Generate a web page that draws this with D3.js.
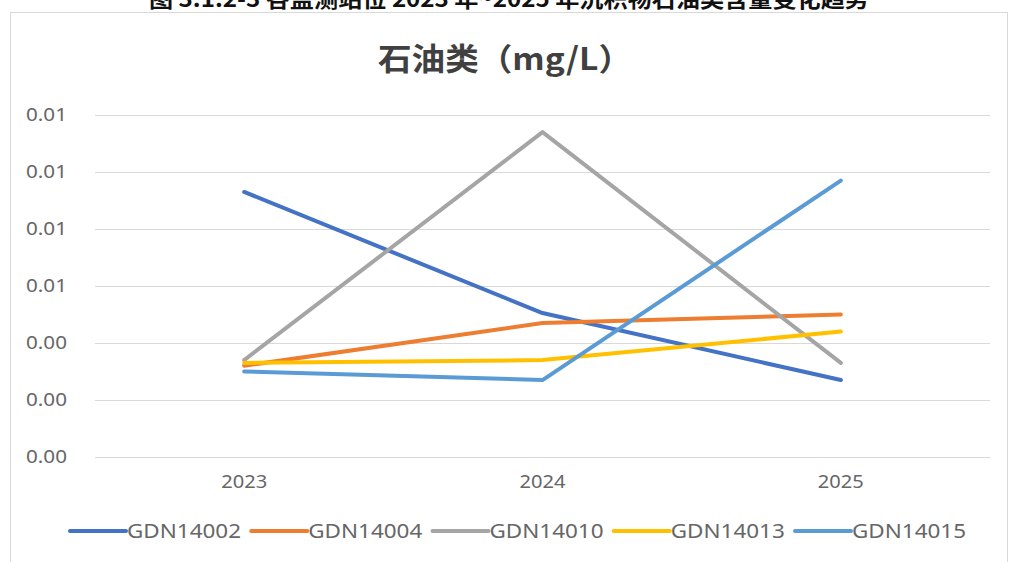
<!DOCTYPE html>
<html>
<head>
<meta charset="utf-8">
<script src="https://cdn.jsdelivr.net/npm/d3@7"></script>
<style>
  body { margin: 0; background: #fff; }
  svg { display: block; }
</style>
</head>
<body>
<div id="wrapper"></div>
<script>
// data
const years = ["2023", "2024", "2025"];
const stations = ["GDN14002", "GDN14004", "GDN14010", "GDN14013", "GDN14015"];
const gdn14002 = [0.0093, 0.00505, 0.0027];
const gdn14004 = [0.0032, 0.0047, 0.0050];
const gdn14010 = [0.0034, 0.0114, 0.0033];
const gdn14013 = [0.0033, 0.0034, 0.0044];
const gdn14015 = [0.0030, 0.0027, 0.0097];
const yTicks = [0, 0.002, 0.004, 0.006, 0.008, 0.010, 0.012];
const colors = ["#4472C4", "#ED7D31", "#A5A5A5", "#FFC000", "#5B9BD5"];

const series = [gdn14002, gdn14004, gdn14010, gdn14013, gdn14015]
  .map((values, i) => ({ name: stations[i], color: colors[i], values }));

// dimensions
const width = 1011, height = 562;
const margin = { top: 115, right: 21, bottom: 105, left: 95 };
const boundedWidth = width - margin.left - margin.right;
const boundedHeight = height - margin.top - margin.bottom;

const svg = d3.select("#wrapper").append("svg")
  .attr("width", width)
  .attr("height", height);

// caption of the page, cut off at the top as in the source
svg.append("text")
  .attr("x", 509).attr("y", 7)
  .attr("text-anchor", "middle")
  .attr("font-family", "Noto Sans CJK SC")
  .attr("font-weight", 700)
  .attr("font-size", 22)
  .attr("fill", "#111")
  .attr("textLength", 720)
  .attr("lengthAdjust", "spacingAndGlyphs")
  .text("图 3.1.2-3 各监测站位 2023 年~2025 年沉积物石油类含量变化趋势");

// chart frame
svg.append("rect")
  .attr("x", 10.5).attr("y", 12.5)
  .attr("width", 997).attr("height", 560)
  .attr("fill", "#fff")
  .attr("stroke", "#d9d9d9");

// title
svg.append("text")
  .attr("x", 505).attr("y", 70)
  .attr("text-anchor", "middle")
  .attr("font-family", "Noto Sans CJK SC")
  .attr("font-weight", 700)
  .attr("font-size", 31)
  .attr("fill", "#404040")
  .attr("textLength", 254)
  .attr("lengthAdjust", "spacingAndGlyphs")
  .text("石油类（mg/L）");

const bounds = svg.append("g")
  .attr("transform", `translate(${margin.left}, ${margin.top})`);

// scales
const xScale = d3.scaleBand()
  .domain(years)
  .range([0, boundedWidth]);
const yScale = d3.scaleLinear()
  .domain([0, 0.012])
  .range([boundedHeight, 0]);

// gridlines + y axis
const yAxis = d3.axisLeft(yScale)
  .tickValues(yTicks)
  .tickFormat(d3.format(".2f"))
  .tickSize(-boundedWidth)
  .tickPadding(28);
const yAxisGroup = bounds.append("g").call(yAxis);
yAxisGroup.select(".domain").remove();
yAxisGroup.selectAll(".tick line")
  .attr("stroke", "#d9d9d9")
  .attr("stroke-width", 1);
yAxisGroup.selectAll(".tick text")
  .attr("font-family", "Noto Sans")
  .attr("font-size", 18)
  .attr("fill", "#666")
  .attr("textLength", 41)
  .attr("lengthAdjust", "spacingAndGlyphs");

// x axis
const xAxis = d3.axisBottom(xScale)
  .tickSize(0)
  .tickPadding(18);
const xAxisGroup = bounds.append("g")
  .attr("transform", `translate(0, ${boundedHeight})`)
  .call(xAxis);
xAxisGroup.select(".domain")
  .attr("stroke", "#d9d9d9");
xAxisGroup.selectAll(".tick text")
  .attr("font-family", "Noto Sans")
  .attr("font-size", 18)
  .attr("fill", "#666")
  .attr("textLength", 46)
  .attr("lengthAdjust", "spacingAndGlyphs");

// lines
const lineGenerator = d3.line()
  .x((d, i) => xScale(years[i]) + xScale.bandwidth() / 2)
  .y(d => yScale(d));

bounds.selectAll(".series")
  .data(series)
  .join("path")
    .attr("class", "series")
    .attr("d", d => lineGenerator(d.values))
    .attr("fill", "none")
    .attr("stroke", d => d.color)
    .attr("stroke-width", 4)
    .attr("stroke-linecap", "round")
    .attr("stroke-linejoin", "round");

// legend
const legendX = d3.scalePoint()
  .domain(stations)
  .range([70, 795]);
const legend = svg.selectAll(".legend")
  .data(series)
  .join("g")
    .attr("class", "legend")
    .attr("transform", d => `translate(${legendX(d.name)}, 531)`);
legend.append("line")
  .attr("x1", 0).attr("x2", 56)
  .attr("stroke", d => d.color)
  .attr("stroke-width", 4)
  .attr("stroke-linecap", "round");
legend.append("text")
  .attr("x", 57).attr("y", 6.5)
  .attr("font-family", "Noto Sans")
  .attr("font-size", 19)
  .attr("fill", "#666")
  .attr("textLength", 114)
  .attr("lengthAdjust", "spacingAndGlyphs")
  .text(d => d.name);
</script>
</body>
</html>
